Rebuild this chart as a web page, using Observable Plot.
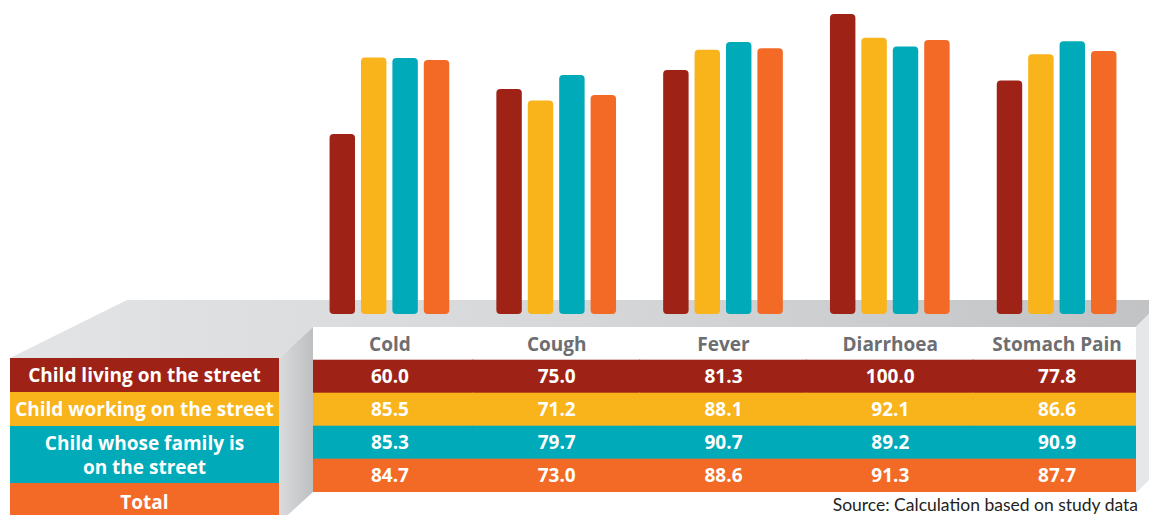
<!DOCTYPE html>
<html>
<head>
<meta charset="utf-8">
<script src="https://cdn.jsdelivr.net/npm/d3@7"></script>
<script src="https://cdn.jsdelivr.net/npm/@observablehq/plot@0.6"></script>
<style>
  html, body { margin: 0; padding: 0; background: #fff; }
  body { width: 1149px; height: 515px; overflow: hidden; position: relative; font-family: "Open Sans", Lato, sans-serif; }
  #deco { position: absolute; left: 0; top: 0; }
  #bars { position: absolute; left: 0; top: 0; }
  #table { position: absolute; left: 0; top: 327px; }
  #legend { position: absolute; left: 10px; top: 358px; width: 269px; }
  #legend div { color: #fff; font-weight: 700; font-size: 19px; text-align: center; display: flex; align-items: center; justify-content: center; line-height: 24px; white-space: nowrap; }
  #source { position: absolute; right: 11px; top: 495px; font-family: Lato, sans-serif; font-size: 17.5px; color: #231f20; line-height: 20px; white-space: nowrap; }
</style>
</head>
<body>
<svg id="deco" width="1149" height="515">
  <defs>
    <linearGradient id="topg" x1="0" x2="1" y1="0" y2="0">
      <stop offset="0" stop-color="#E3E4E5"/>
      <stop offset="0.5" stop-color="#D6D7D9"/>
      <stop offset="1" stop-color="#C2C3C5"/>
    </linearGradient>
    <linearGradient id="sideg" x1="0" x2="1" y1="0" y2="0">
      <stop offset="0" stop-color="#DADBDD"/>
      <stop offset="1" stop-color="#BEBFC1"/>
    </linearGradient>
  </defs>
  <polygon points="10,358 127,300 1149,300 1149,314 1136,327 313,327 279,358" fill="url(#topg)"/>
  <polygon points="279,358 313,327 313,492 279,523" fill="url(#sideg)"/>
  <polygon points="1136,327 1149,314 1149,480 1136,493" fill="#E6E7E8"/>
</svg>
<div id="bars"></div>
<div id="table"></div>
<div id="legend"></div>
<div id="source">Source: Calculation based on study data</div>
<script>
const categories = ["Cold", "Cough", "Fever", "Diarrhoea", "Stomach Pain"];
const series = ["Child living on the street", "Child working on the street", "Child whose family is on the street", "Total"];
const seriesLabels = ["Child living on the street", "Child working on the street", "Child whose family is<br>on the street", "Total"];
const livingOnStreet = [60.0, 75.0, 81.3, 100.0, 77.8];
const workingOnStreet = [85.5, 71.2, 88.1, 92.1, 86.6];
const familyOnStreet = [85.3, 79.7, 90.7, 89.2, 90.9];
const totalValues = [84.7, 73.0, 88.6, 91.3, 87.7];
const colors = ["#9E2316", "#F9B31B", "#00AAB9", "#F26A26"];

const valueArrays = [livingOnStreet, workingOnStreet, familyOnStreet, totalValues];
const rows = [];
series.forEach((s, si) => {
  categories.forEach((c, ci) => rows.push({cat: c, series: s, value: valueArrays[si][ci]}));
});

const font = "'Open Sans', Lato, sans-serif";

const bars = Plot.plot({
  width: 1149,
  height: 327,
  marginLeft: 306,
  marginRight: 9,
  marginTop: 14,
  marginBottom: 13,
  style: {background: "transparent", fontFamily: font},
  fx: {domain: categories, padding: 0, round: false, axis: null},
  x: {domain: series, paddingInner: 0.19, paddingOuter: 0.75, round: false, axis: null},
  y: {domain: [0, 100], axis: null},
  color: {domain: series, range: colors},
  marks: [
    Plot.barY(rows, {fx: "cat", x: "series", y: "value", fill: "series", rx: 4})
  ]
});
document.getElementById("bars").appendChild(bars);

const rowKeys = ["header", ...series];
const table = Plot.plot({
  width: 1149,
  height: 165,
  marginLeft: 313,
  marginRight: 13,
  marginTop: 0,
  marginBottom: 0,
  style: {background: "transparent", fontFamily: font},
  x: {domain: categories, range: [306, 1140], padding: 0, round: false, axis: null},
  y: {domain: rowKeys, padding: 0, round: false, axis: null},
  color: {domain: series, range: colors},
  marks: [
    Plot.cell(categories, {x: d => d, y: () => "header", fill: "white", clip: true, inset: -0.6}),
    Plot.cell(rows, {x: "cat", y: "series", fill: "series", clip: true, insetLeft: -0.6, insetRight: -0.6, insetTop: -0.3, insetBottom: -0.3}),
    Plot.text(categories, {x: d => d, y: () => "header", text: d => d, fill: "#6D6E71", fontWeight: 700, fontSize: 19, dy: 1}),
    Plot.text(rows, {x: "cat", y: "series", text: d => d.value.toFixed(1), fill: "white", fontWeight: 700, fontSize: 19})
  ]
});
document.getElementById("table").appendChild(table);

const heights = [34, 34, 57, 40];
const legend = document.getElementById("legend");
series.forEach((s, i) => {
  const d = document.createElement("div");
  d.style.background = colors[i];
  d.style.height = heights[i] + "px";
  d.innerHTML = seriesLabels[i];
  if (i === 3) { d.style.alignItems = "flex-start"; d.style.paddingTop = "7px"; d.style.height = (heights[i] - 7) + "px"; }
  legend.appendChild(d);
});
</script>
</body>
</html>
